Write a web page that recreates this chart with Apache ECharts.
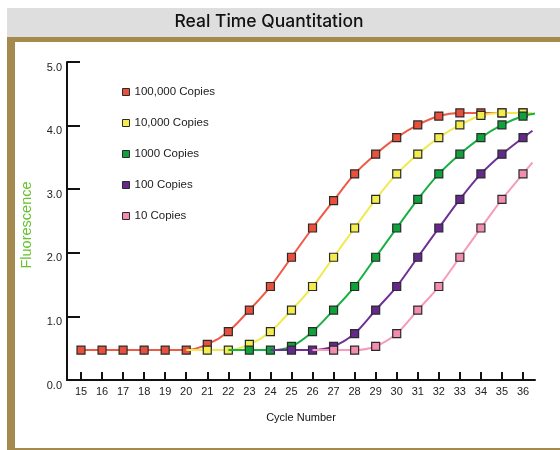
<!DOCTYPE html>
<html>
<head>
<meta charset="utf-8">
<script src="https://cdn.jsdelivr.net/npm/echarts@6/dist/echarts.min.js"></script>
<style>
    html, body { margin: 0; padding: 0; background: #fff; }
    #chart { width: 560px; height: 450px; }
</style>
</head>
<body>
<div id="chart"></div>
<script>
// cycle numbers along the x axis
const cycles = [15, 16, 17, 18, 19, 20, 21, 22, 23, 24, 25, 26, 27, 28, 29, 30, 31, 32, 33, 34, 35, 36];

const seriesNames = ['100,000 Copies', '10,000 Copies', '1000 Copies', '100 Copies', '10 Copies'];

// fluorescence per cycle (null = no point)
const copies100k = [0.47, 0.47, 0.47, 0.47, 0.47, 0.47, 0.56, 0.76, 1.10, 1.47, 1.93, 2.39, 2.82, 3.24, 3.55, 3.81, 4.01, 4.15, 4.20, 4.20, 4.20, 4.20];
const copies10k = [null, null, null, null, null, 0.47, 0.47, 0.47, 0.56, 0.76, 1.10, 1.47, 1.93, 2.39, 2.84, 3.24, 3.55, 3.81, 4.01, 4.16, 4.20, 4.20];
const copies1000 = [null, null, null, null, null, null, null, 0.47, 0.47, 0.47, 0.53, 0.76, 1.10, 1.47, 1.93, 2.39, 2.84, 3.24, 3.55, 3.81, 4.01, 4.15];
const copies100 = [null, null, null, null, null, null, null, null, null, 0.47, 0.47, 0.47, 0.53, 0.73, 1.10, 1.47, 1.93, 2.39, 2.84, 3.24, 3.55, 3.81];
const copies10 = [null, null, null, null, null, null, null, null, null, null, null, 0.47, 0.47, 0.47, 0.53, 0.73, 1.10, 1.47, 1.93, 2.39, 2.84, 3.24];

// first cycle that gets a marker (earlier points are line only)
const firstMarker = [15, 21, 23, 25, 27];
// curve continues a little past the last cycle
const tailCycles = [36.4, 36.45, 36.57, 36.45, 36.45];
const tailValues = [4.20, 4.20, 4.19, 3.92, 3.42];

const yTicks = [0, 1, 2, 3, 4, 5];

const allValues = [copies100k, copies10k, copies1000, copies100, copies10];
const markerColors = ['#e8503c', '#f3ec4c', '#0ea33a', '#65298e', '#f28db0'];
const lineColors = ['#ef5a46', '#f1ea4e', '#18b043', '#6e3097', '#f69bbb'];

const fontFamily = '"Liberation Sans", Arial, sans-serif';

function buildData(k) {
    const vals = allValues[k];
    const out = [];
    cycles.forEach((c, i) => {
        if (vals[i] == null) return;
        if (c < firstMarker[k]) {
            out.push({ value: [c, vals[i]], symbol: 'none' });
        } else {
            out.push([c, vals[i]]);
        }
    });
    out.push({ value: [tailCycles[k], tailValues[k]], symbol: 'none' });
    return out;
}

const chart = echarts.init(document.getElementById('chart'), null, { renderer: 'canvas' });

const series = seriesNames.map((name, k) => ({
    name: name,
    type: 'line',
    data: buildData(k),
    smooth: 0.3,
    symbol: 'rect',
    symbolSize: 8,
    showAllSymbol: true,
    lineStyle: { color: lineColors[k], width: 2 },
    itemStyle: { color: markerColors[k], borderColor: '#2a2a2a', borderWidth: 1.2 },
    emphasis: { disabled: true },
    z: 2 + k
}));

chart.setOption({
    animation: false,
    backgroundColor: '#fff',
    graphic: [
        { type: 'rect', shape: { x: 7, y: 8, width: 553, height: 29 }, style: { fill: '#dedede' }, z: -10 },
        { type: 'rect', shape: { x: 7, y: 37, width: 553, height: 5 }, style: { fill: '#a58a4e' }, z: -10 },
        { type: 'rect', shape: { x: 7, y: 37, width: 8, height: 413 }, style: { fill: '#a58a4e' }, z: -10 },
        { type: 'rect', shape: { x: 7, y: 448, width: 553, height: 2 }, style: { fill: '#a58a4e' }, z: -10 },
        {
            type: 'text', x: 269, y: 22,
            style: {
                text: 'Real Time Quantitation', fill: '#111',
                font: '500 17.5px Inter, "Liberation Sans", Arial, sans-serif',
                textAlign: 'center', textVerticalAlign: 'middle'
            }
        }
    ],
    legend: {
        orient: 'vertical',
        left: 117,
        top: 80,
        icon: 'rect',
        itemWidth: 7,
        itemHeight: 7,
        itemGap: 17,
        selectedMode: false,
        itemStyle: { borderColor: '#2a2a2a', borderWidth: 1 },
        textStyle: { color: '#222', fontSize: 11.5, fontFamily: fontFamily, lineHeight: 14 },
        data: seriesNames
    },
    grid: { left: 67, right: 25, top: 62, bottom: 70 },
    xAxis: {
        type: 'value',
        min: 14.335,
        max: 36.57,
        name: 'Cycle Number',
        nameLocation: 'middle',
        nameGap: 32,
        nameTextStyle: { color: '#111', fontSize: 11, fontFamily: fontFamily },
        axisLine: { lineStyle: { color: '#111', width: 2 } },
        axisTick: { inside: true, length: 8, customValues: cycles, lineStyle: { color: '#111', width: 2 } },
        axisLabel: { customValues: cycles, color: '#222', fontSize: 11, fontFamily: fontFamily, margin: 6 },
        splitLine: { show: false }
    },
    yAxis: {
        type: 'value',
        min: 0,
        max: 5,
        interval: 1,
        name: 'Fluorescence',
        nameLocation: 'middle',
        nameGap: 33,
        nameTextStyle: { color: '#66c22e', fontSize: 14.5, fontFamily: fontFamily, padding: [0, 8, 0, 0] },
        axisLine: { lineStyle: { color: '#111', width: 2 } },
        axisTick: { inside: true, length: 13, customValues: yTicks, lineStyle: { color: '#111', width: 2 } },
        axisLabel: {
            color: '#222', fontSize: 11, fontFamily: fontFamily, margin: 5,
            verticalAlign: 'top', lineHeight: 11,
            formatter: v => v.toFixed(1)
        },
        splitLine: { show: false }
    },
    series: series
});
</script>
</body>
</html>
